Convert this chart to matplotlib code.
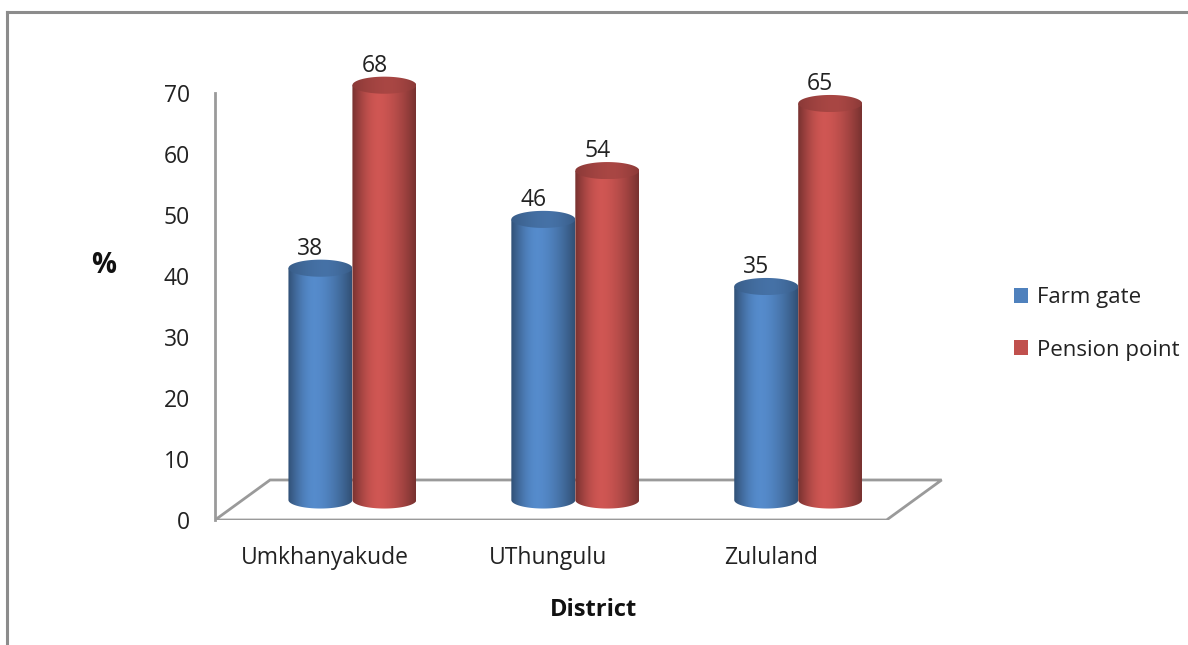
import numpy as np
import matplotlib
matplotlib.use("Agg")
import matplotlib.pyplot as plt
from matplotlib.patches import Polygon, Patch
from matplotlib.lines import Line2D

# ---- data -------------------------------------------------------------
districts = ["Umkhanyakude", "UThungulu", "Zululand"]
series_names = ["Farm gate", "Pension point"]
farm_gate = [38, 46, 35]
pension_point = [68, 54, 65]
y_ticks = [0, 10, 20, 30, 40, 50, 60, 70]

plt.rcParams["font.family"] = ["Open Sans", "DejaVu Sans"]

W, H, DPI = 1188, 645, 100
fig = plt.figure(figsize=(W / DPI, H / DPI), dpi=DPI)

# axes placed so that the front plane runs from value 0 to 70
ax = fig.add_axes([215 / W, 125 / H, 734 / W, 457.5 / H])
XMIN, XMAX = -0.493, 2.8
YMIN, YMAX = 0, 75

# pseudo-3D depth (full floor depth and half depth for the bars)
DEPTH_X, DEPTH_Y = 0.247, 6.56
DX, DY = DEPTH_X / 2, DEPTH_Y / 2
BAR_W = 0.287
ELL_H = 2.8
FRONT_RIGHT = 2.52
FS = 16.5

grey = "#9a9a9a"

# floor parallelogram
floor = Polygon([[XMIN, 0], [FRONT_RIGHT, 0],
                 [FRONT_RIGHT + DEPTH_X, DEPTH_Y], [XMIN + DEPTH_X, DEPTH_Y]],
                closed=True, fill=False, edgecolor=grey, lw=2, zorder=1)
ax.add_patch(floor)


def shade(base, n=200, lo=0.62, hi=1.08, peak=0.42):
    base = np.array(matplotlib.colors.to_rgb(base))
    t = np.linspace(0, 1, n)
    f = np.where(t < peak,
                 lo + (hi - lo) * np.sin(t / peak * np.pi / 2),
                 hi - (hi - lo) * ((t - peak) / (1 - peak)) ** 1.6)
    return np.clip(base[None, :] * f[:, None], 0, 1)[None, :, :]


def ellipse_pts(xc, yc, w, h, t0, t1, n=80):
    t = np.linspace(t0, t1, n)
    return np.column_stack([xc + w / 2 * np.cos(t), yc + h / 2 * np.sin(t)])


def cylinder(xc, value, color, z):
    x0, x1 = xc - BAR_W / 2, xc + BAR_W / 2
    yb = DY
    yt = DY + value
    # body: rectangle plus lower half of the base ellipse
    body_pts = np.vstack([[[x0, yt]],
                          ellipse_pts(xc, yb, BAR_W, ELL_H, np.pi, 2 * np.pi),
                          [[x1, yt]]])
    body = Polygon(body_pts, closed=True, facecolor="none", edgecolor="none")
    ax.add_patch(body)
    im = ax.imshow(shade(color), extent=(x0, x1, yb - ELL_H / 2, yt),
                   aspect="auto", interpolation="bilinear", zorder=z)
    im.set_clip_path(body)
    # top face
    top_pts = ellipse_pts(xc, yt, BAR_W, ELL_H, 0, 2 * np.pi)
    top = Polygon(top_pts, closed=True, facecolor="none", edgecolor="none")
    ax.add_patch(top)
    im2 = ax.imshow(shade(color, lo=0.72, hi=0.88, peak=0.6),
                    extent=(x0, x1, yt - ELL_H / 2, yt + ELL_H / 2),
                    aspect="auto", interpolation="bilinear", zorder=z + 0.1)
    im2.set_clip_path(top)
    ax.text(xc - 0.045, yt + 3.2, f"{value:g}", ha="center", va="center",
            fontsize=FS, color="#222222", zorder=10)


colors = ["#4F81BD", "#C0504D"]
x = np.arange(len(districts))
for i in range(len(districts)):
    cylinder(x[i] - BAR_W / 2 + DX, farm_gate[i], colors[0], 2 + i)
    cylinder(x[i] + BAR_W / 2 + DX, pension_point[i], colors[1], 2.5 + i)

ax.set_xlim(XMIN, XMAX)
ax.set_ylim(YMIN, YMAX)
for s in ["top", "right", "bottom"]:
    ax.spines[s].set_visible(False)
ax.spines["left"].set_color(grey)
ax.spines["left"].set_linewidth(2)
ax.spines["left"].set_bounds(0, 70)
ax.set_yticks(y_ticks)
ax.set_xticks(x)
ax.set_xticklabels(districts)
ax.tick_params(axis="y", length=0, pad=18, labelsize=FS, labelcolor="#222222")
ax.tick_params(axis="x", length=0, pad=19, labelsize=FS, labelcolor="#222222")
ax.patch.set_alpha(0)

fig.text(104 / W, 1 - 265 / H, "%", ha="center", va="center",
         fontsize=20, fontweight="bold", color="#111111")
fig.text(594 / W, 1 - 610 / H, "District", ha="center", va="center",
         fontsize=17, fontweight="bold", color="#111111")

handles = [Patch(facecolor=c, edgecolor="none") for c in colors]
fig.legend(handles, series_names, loc="center left",
           bbox_to_anchor=(994 / W, 1 - 324 / H), frameon=False,
           fontsize=16, handlelength=0.65, handleheight=0.65,
           handletextpad=0.4, labelspacing=1.4, labelcolor="#222222")

# outer frame (top and left edges)
fig.add_artist(Line2D([7 / W, 1], [1 - 12 / H, 1 - 12 / H], color="#8c8c8c", lw=2.2,
                      transform=fig.transFigure))
fig.add_artist(Line2D([7 / W, 7 / W], [0, 1 - 12 / H], color="#8c8c8c", lw=2.2,
                      transform=fig.transFigure))

fig.savefig("out.png", dpi=DPI, facecolor="white")
